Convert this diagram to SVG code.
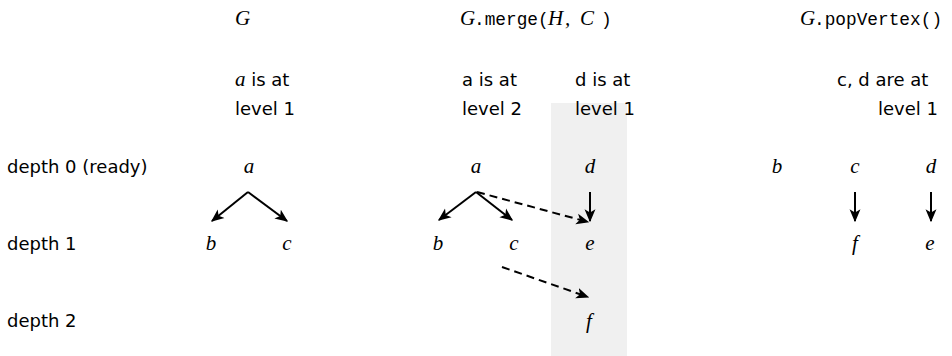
<svg xmlns="http://www.w3.org/2000/svg" width="952" height="356" viewBox="0 0 952 356">
<defs>
<style>
.s{font-family:"DejaVu Sans","Liberation Sans",sans-serif;font-size:18px;fill:#000}
.m{font-family:"Liberation Serif","DejaVu Serif",serif;font-style:italic;font-size:21px;fill:#000}
.t{font-family:"Liberation Mono","DejaVu Sans Mono",monospace;font-size:17.8px;fill:#000}
.e{stroke:#000;stroke-width:2;fill:none}
.d{stroke-dasharray:8,5}
</style>
<marker id="ah" viewBox="0 0 10 10" refX="9" refY="5" markerWidth="13" markerHeight="13" markerUnits="userSpaceOnUse" orient="auto"><path d="M0,0.8 L10,5 L0,9.2 L2.5,5 z" fill="#000"/></marker>
</defs>
<rect x="551" y="103" width="76" height="253" fill="#f0f0f0"/>
<g id="headers">
<text class="m" x="235" y="25">G</text>
<text y="25"><tspan class="m" x="460">G</tspan><tspan class="t" x="474">.merge(</tspan><tspan class="m" x="548">H</tspan><tspan class="m" x="565" font-style="normal">,</tspan><tspan class="m" x="580">C</tspan><tspan class="t" x="601">)</tspan></text>
<text y="25"><tspan class="m" x="800">G</tspan><tspan class="t" x="814">.popVertex()</tspan></text>
<text x="235" y="86"><tspan class="m">a</tspan><tspan class="s"> is at</tspan></text>
<text class="s" x="235" y="115">level 1</text>
<text class="s" x="462" y="86">a is at</text>
<text class="s" x="462" y="115">level 2</text>
<text class="s" x="575" y="86">d is at</text>
<text class="s" x="575" y="115">level 1</text>
<text class="s" x="837" y="86">c, d are at</text>
<text class="s" x="878" y="115">level 1</text>
<text class="s" x="7" y="173" font-size="18.5">depth 0 (ready)</text>
<text class="s" x="7" y="250" font-size="18.5">depth 1</text>
<text class="s" x="7" y="327" font-size="18.5">depth 2</text>
</g>
<g id="n1a"><text class="m" x="249" y="173" text-anchor="middle">a</text></g>
<g id="n1b"><text class="m" x="211" y="250" text-anchor="middle">b</text></g>
<g id="n1c"><text class="m" x="287" y="250" text-anchor="middle">c</text></g>
<g id="n2a"><text class="m" x="476" y="173" text-anchor="middle">a</text></g>
<g id="n2b"><text class="m" x="438" y="250" text-anchor="middle">b</text></g>
<g id="n2c"><text class="m" x="514" y="250" text-anchor="middle">c</text></g>
<g id="n2d"><text class="m" x="590" y="173" text-anchor="middle">d</text></g>
<g id="n2e"><text class="m" x="590" y="250" text-anchor="middle">e</text></g>
<g id="n2f"><text class="m" x="589" y="328" text-anchor="middle">f</text></g>
<g id="n3b"><text class="m" x="777" y="173" text-anchor="middle">b</text></g>
<g id="n3c"><text class="m" x="855" y="173" text-anchor="middle">c</text></g>
<g id="n3d"><text class="m" x="931" y="173" text-anchor="middle">d</text></g>
<g id="n3f"><text class="m" x="855" y="250" text-anchor="middle">f</text></g>
<g id="n3e"><text class="m" x="930" y="250" text-anchor="middle">e</text></g>
<g id="connectors">
<line class="e" x1="248" y1="192" x2="212" y2="221" marker-end="url(#ah)"/>
<line class="e" x1="248" y1="192" x2="287" y2="221" marker-end="url(#ah)"/>
<line class="e" x1="476" y1="192" x2="439" y2="220" marker-end="url(#ah)"/>
<line class="e" x1="476" y1="192" x2="512" y2="220" marker-end="url(#ah)"/>
<line class="e d" x1="477" y1="192" x2="588" y2="222" marker-end="url(#ah)"/>
<line class="e" x1="590" y1="192" x2="590" y2="221" marker-end="url(#ah)"/>
<line class="e d" x1="502" y1="267" x2="588" y2="297" marker-end="url(#ah)"/>
<line class="e" x1="855" y1="192" x2="855" y2="221" marker-end="url(#ah)"/>
<line class="e" x1="931" y1="192" x2="931" y2="221" marker-end="url(#ah)"/>
</g>
</svg>
